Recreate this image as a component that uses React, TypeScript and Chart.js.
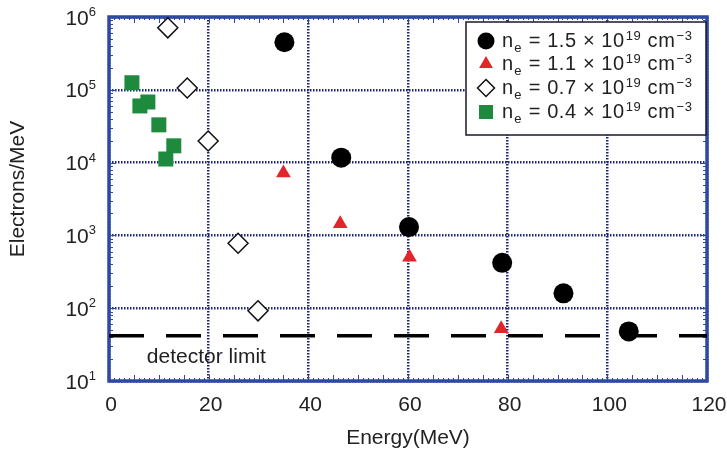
import React, { useEffect, useRef } from 'react';
import { Chart, registerables } from 'chart.js';

Chart.register(...registerables);

// ---- data ----
const highEnergy = [35.2, 46.6, 60.2, 78.9, 91.2, 104.3];
const highCounts = [4.5e5, 1.17e4, 1.3e3, 420, 160, 48];
const midHighEnergy = [35.0, 46.4, 60.3, 78.7];
const midHighCounts = [7.2e3, 1.45e3, 500, 52];
const midLowEnergy = [11.8, 15.7, 19.9, 25.9, 29.9];
const midLowCounts = [7.1e5, 1.06e5, 1.98e4, 780, 92];
const lowEnergy = [4.6, 6.2, 7.8, 10.0, 13.0, 11.4];
const lowCounts = [1.25e5, 6.0e4, 6.8e4, 3.3e4, 1.7e4, 1.12e4];
const detectorLimit = 42;
const detectorLabelEnergy = 7.6;
const densities = ['1.5', '1.1', '0.7', '0.4'];
const xTickValues = [0, 20, 40, 60, 80, 100, 120];
const yExponents = [1, 2, 3, 4, 5, 6];

const FONT = '"Liberation Sans", Arial, Helvetica, sans-serif';
const NAVY = '#1e2675';
const FRAME = '#2e49a3';
const TEXT = '#222222';
const RED = '#e2242b';
const GREEN = '#1d8a3e';

const pts = (xs: number[], ys: number[]) => xs.map((x, i) => ({ x, y: ys[i] }));

function drawMarker(ctx: CanvasRenderingContext2D, kind: number, x: number, y: number) {
  ctx.save();
  ctx.beginPath();
  if (kind === 0) {
    ctx.arc(x, y, 8.5, 0, Math.PI * 2);
    ctx.fillStyle = '#000';
    ctx.fill();
  } else if (kind === 1) {
    const r = 8;
    ctx.moveTo(x, y - r);
    ctx.lineTo(x + r * 0.866, y + r / 2);
    ctx.lineTo(x - r * 0.866, y + r / 2);
    ctx.closePath();
    ctx.fillStyle = RED;
    ctx.fill();
  } else if (kind === 2) {
    const r = 8.5;
    ctx.moveTo(x, y - r);
    ctx.lineTo(x + r, y);
    ctx.lineTo(x, y + r);
    ctx.lineTo(x - r, y);
    ctx.closePath();
    ctx.fillStyle = '#fff';
    ctx.fill();
    ctx.lineWidth = 1.5;
    ctx.strokeStyle = '#111';
    ctx.stroke();
  } else {
    ctx.rect(x - 7, y - 7, 14, 14);
    ctx.fillStyle = GREEN;
    ctx.fill();
  }
  ctx.restore();
}

const framePlugin = {
  id: 'frameAndText',
  beforeDatasetsDraw(chart: any) {
    const { ctx, chartArea } = chart;
    const { left, top, right, bottom } = chartArea;
    const xs = chart.scales.x;
    const ys = chart.scales.y;
    ctx.save();
    // ruler-like minor ticks
    ctx.strokeStyle = FRAME;
    ctx.lineWidth = 1;
    ctx.beginPath();
    for (let v = 0; v <= 120; v += 1) {
      const px = Math.round(xs.getPixelForValue(v)) + 0.5;
      const len = v % 5 === 0 ? 6 : 3;
      ctx.moveTo(px, bottom);
      ctx.lineTo(px, bottom - len);
      ctx.moveTo(px, top);
      ctx.lineTo(px, top + len);
    }
    for (let d = 1; d < 6; d++) {
      for (let m = 1; m < 10; m++) {
        const py = Math.round(ys.getPixelForValue(m * Math.pow(10, d))) + 0.5;
        const len = m === 1 ? 7 : 4;
        ctx.moveTo(left, py);
        ctx.lineTo(left + len, py);
        ctx.moveTo(right, py);
        ctx.lineTo(right - len, py);
      }
    }
    ctx.stroke();
    // frame
    ctx.lineWidth = 3.5;
    ctx.strokeStyle = FRAME;
    ctx.strokeRect(left, top, right - left, bottom - top);
    ctx.restore();
  },
  afterDraw(chart: any) {
    const { ctx, chartArea } = chart;
    const { left, top, right, bottom } = chartArea;
    const xs = chart.scales.x;
    const ys = chart.scales.y;
    ctx.save();
    ctx.fillStyle = TEXT;
    // x tick labels
    ctx.font = `21px ${FONT}`;
    ctx.textAlign = 'center';
    ctx.textBaseline = 'alphabetic';
    xTickValues.forEach((v) => {
      ctx.fillText(String(v), xs.getPixelForValue(v) + 2, bottom + 30);
    });
    // y tick labels with superscripts
    yExponents.forEach((e) => {
      const py = ys.getPixelForValue(Math.pow(10, e));
      ctx.font = `13px ${FONT}`;
      const sup = String(e);
      const supW = ctx.measureText(sup).width;
      ctx.font = `21px ${FONT}`;
      const baseW = ctx.measureText('10').width;
      const end = left - 13;
      ctx.textAlign = 'left';
      ctx.fillText('10', end - supW - baseW, py + 7.5);
      ctx.font = `13px ${FONT}`;
      ctx.fillText(sup, end - supW, py - 1);
    });
    // axis titles
    ctx.font = `21px ${FONT}`;
    ctx.textAlign = 'center';
    ctx.textBaseline = 'middle';
    ctx.fillText('Energy(MeV)', (left + right) / 2, 438);
    ctx.save();
    ctx.translate(18, (top + bottom) / 2 - 10);
    ctx.rotate(-Math.PI / 2);
    ctx.fillText('Electrons/MeV', 0, 0);
    ctx.restore();
    // detector limit label
    ctx.textAlign = 'left';
    ctx.textBaseline = 'alphabetic';
    ctx.fillText('detector limit', xs.getPixelForValue(detectorLabelEnergy), ys.getPixelForValue(detectorLimit) + 27);

    // legend
    const lx = right - 241;
    const ly = top + 5;
    const lw = 240;
    const lh = 113;
    ctx.fillStyle = '#fff';
    ctx.fillRect(lx, ly, lw, lh);
    ctx.lineWidth = 1.5;
    ctx.strokeStyle = '#1a1a2a';
    ctx.strokeRect(lx, ly, lw, lh);
    const rows = [19, 42, 66, 90];
    densities.forEach((d, i) => {
      const yc = ly + rows[i];
      drawMarker(ctx, i, lx + 20, yc);
      ctx.fillStyle = TEXT;
      ctx.textAlign = 'left';
      (ctx as any).letterSpacing = '0.6px';
      let x = lx + 36;
      ctx.font = `20px ${FONT}`;
      ctx.fillText('n', x, yc + 6);
      x += ctx.measureText('n').width;
      ctx.font = `13px ${FONT}`;
      ctx.fillText('e', x + 0.5, yc + 11);
      x += ctx.measureText('e').width + 1;
      ctx.font = `20px ${FONT}`;
      const mid = ` = ${d} \u00d7 10`;
      ctx.fillText(mid, x, yc + 6);
      x += ctx.measureText(mid).width;
      ctx.font = `13px ${FONT}`;
      ctx.fillText('19', x + 1, yc - 1);
      x += ctx.measureText('19').width + 1;
      ctx.font = `20px ${FONT}`;
      ctx.fillText(' cm', x, yc + 6);
      x += ctx.measureText(' cm').width;
      ctx.font = `13px ${FONT}`;
      ctx.fillText('\u22123', x + 1, yc - 1);
      (ctx as any).letterSpacing = '0px';
    });
    ctx.restore();
  },
};

export default function App() {
  const ref = useRef<HTMLCanvasElement | null>(null);
  useEffect(() => {
    document.body.style.margin = '0';
    const canvas = ref.current;
    if (!canvas) return;
    const chart = new Chart(canvas, {
      type: 'scatter',
      data: {
        datasets: [
          {
            label: 'ne = 1.5',
            data: pts(highEnergy, highCounts),
            pointStyle: 'circle',
            pointRadius: 10,
            backgroundColor: '#000',
            borderColor: '#000',
            borderWidth: 0,
          },
          {
            label: 'ne = 1.1',
            data: pts(midHighEnergy, midHighCounts),
            pointStyle: 'triangle',
            pointRadius: 8.5,
            backgroundColor: RED,
            borderColor: RED,
            borderWidth: 0,
          },
          {
            label: 'ne = 0.7',
            data: pts(midLowEnergy, midLowCounts),
            pointStyle: 'rectRot',
            pointRadius: 10,
            backgroundColor: '#fff',
            borderColor: '#111',
            borderWidth: 1.5,
          },
          {
            label: 'ne = 0.4',
            data: pts(lowEnergy, lowCounts),
            pointStyle: 'rect',
            pointRadius: 10.6,
            backgroundColor: GREEN,
            borderColor: GREEN,
            borderWidth: 0,
          },
          {
            type: 'line',
            label: 'detector limit',
            data: [
              { x: 0, y: detectorLimit },
              { x: 120, y: detectorLimit },
            ],
            showLine: true,
            borderColor: '#000',
            borderWidth: 3.5,
            borderDash: [35, 22],
            pointRadius: 0,
            fill: false,
          } as any,
        ],
      },
      options: {
        responsive: false,
        animation: false,
        events: [],
        layout: { padding: { left: 109, right: 20, top: 17, bottom: 74 } },
        plugins: { legend: { display: false }, tooltip: { enabled: false } },
        scales: {
          x: {
            type: 'linear',
            min: 0,
            max: 120,
            ticks: { display: false, stepSize: 20 },
            grid: { color: NAVY, lineWidth: 2.5, drawTicks: false },
            border: { display: false, dash: [1.5, 1.5] },
          },
          y: {
            type: 'logarithmic',
            min: 10,
            max: 1e6,
            ticks: { display: false },
            afterBuildTicks: (scale: any) => {
              scale.ticks = yExponents.map((e) => ({ value: Math.pow(10, e) }));
            },
            grid: { color: NAVY, lineWidth: 2.5, drawTicks: false },
            border: { display: false, dash: [1.5, 1.5] },
          },
        },
      },
      plugins: [framePlugin],
    });
    return () => chart.destroy();
  }, []);
  return <canvas ref={ref} width={727} height={455} style={{ display: 'block' }} />;
}
